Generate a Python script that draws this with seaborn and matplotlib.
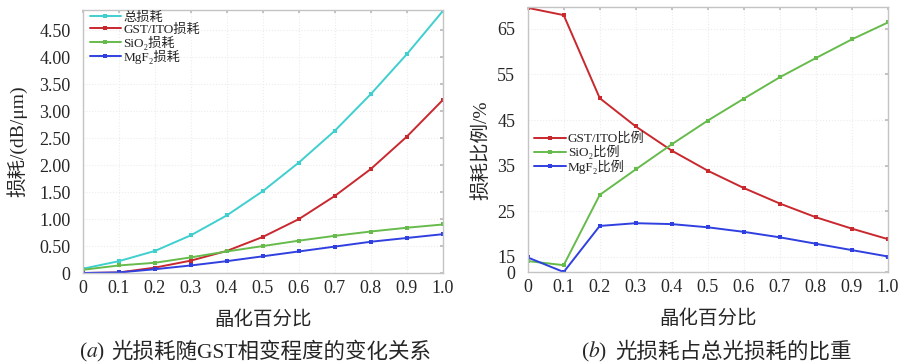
import numpy as np
import pandas as pd
import matplotlib
matplotlib.use("Agg")
import matplotlib.pyplot as plt
import seaborn as sns

# crystallization fraction
x = [0, 0.1, 0.2, 0.3, 0.4, 0.5, 0.6, 0.7, 0.8, 0.9, 1.0]

# (a) loss, dB/um
total_loss = [0.08, 0.22, 0.41, 0.70, 1.07, 1.52, 2.05, 2.64, 3.32, 4.06, 4.86]
gst_loss = [0.0, 0.01, 0.10, 0.23, 0.41, 0.67, 1.00, 1.43, 1.93, 2.53, 3.21]
sio2_loss = [0.06, 0.14, 0.19, 0.29, 0.40, 0.50, 0.60, 0.69, 0.77, 0.84, 0.90]
mgf2_loss = [0.0, 0.01, 0.07, 0.14, 0.22, 0.31, 0.40, 0.49, 0.58, 0.65, 0.72]

# (b) share of total loss, %
gst_pct = [69.6, 68.0, 49.8, 43.6, 38.3, 33.9, 30.1, 26.7, 23.7, 21.2, 18.9]
sio2_pct = [14.1, 13.2, 28.6, 34.2, 39.7, 44.9, 49.7, 54.4, 58.6, 62.7, 66.4]
mgf2_pct = [14.9, 11.7, 21.8, 22.4, 22.2, 21.5, 20.5, 19.3, 17.9, 16.5, 15.1]

xticks = [0, 0.1, 0.2, 0.3, 0.4, 0.5, 0.6, 0.7, 0.8, 0.9, 1.0]
xticklabels = ["0", "0.1", "0.2", "0.3", "0.4", "0.5", "0.6", "0.7", "0.8", "0.9", "1.0"]
yticks_a = [0, 0.5, 1.0, 1.5, 2.0, 2.5, 3.0, 3.5, 4.0, 4.5]
yticklabels_a = ["0", "0.50", "1.00", "1.50", "2.00", "2.50", "3.00", "3.50", "4.00", "4.50"]
ylo_b, yhi_b = 11.7, 69.8
yticks_b = [ylo_b, 15, 25, 35, 45, 55, 65]
yticklabels_b = ["0", "15", "25", "35", "45", "55", "65"]

c_total = "#3fcfcf"
c_red = "#c8282e"
c_green = "#66bb4c"
c_blue = "#3040e0"

sns.set_theme(style="white")
plt.rcParams["font.family"] = ["Liberation Serif", "DejaVu Serif", "Noto Sans CJK SC"]
plt.rcParams["mathtext.fontset"] = "stix"

fig = plt.figure(figsize=(9.04, 3.64), dpi=100)
ax1 = fig.add_axes([0.0918, 0.25, 0.398, 0.7225])
ax2 = fig.add_axes([0.5837, 0.2527, 0.3986, 0.7283])

def style_axes(ax):
    for s in ax.spines.values():
        s.set_color("#c4c4c4")
        s.set_linewidth(1.0)
    ax.grid(True, color="#ececec", linestyle=":", linewidth=0.8)
    ax.tick_params(axis="both", direction="in", length=2, color="#bbbbbb",
                   labelsize=13, top=True, right=True,
                   labeltop=False, labelright=False)
    ax.tick_params(axis="y", pad=9)
    ax.tick_params(axis="x", pad=5)

# (a)
series_a = [(total_loss, "总损耗", c_total),
            (gst_loss, "GST/ITO损耗", c_red),
            (sio2_loss, "SiO₂损耗", c_green),
            (mgf2_loss, "MgF₂损耗", c_blue)]
for vals, name, col in series_a:
    df = pd.DataFrame({"x": x, "y": vals})
    sns.lineplot(data=df, x="x", y="y", ax=ax1, color=col, marker="s",
                 markersize=3, markeredgewidth=0, linewidth=1.4, label=name)
ax1.set_xlim(0, 1.0)
ax1.set_ylim(0, 4.88)
ax1.set_xticks(xticks)
ax1.set_xticklabels(xticklabels)
ax1.set_yticks(yticks_a)
ax1.set_yticklabels(yticklabels_a)
ax1.set_xlabel("晶化百分比", fontsize=14, labelpad=10)
ax1.set_ylabel("损耗/(dB/μm)", fontsize=14)
ax1.yaxis.set_label_coords(-0.155, 0.5)
style_axes(ax1)
ax1.legend(loc="upper left", frameon=False, fontsize=9.5, handlelength=2.4,
           handletextpad=0.15, labelspacing=0.0, borderaxespad=0.1,
           bbox_to_anchor=(0.0, 1.02))

# (b)
series_b = [(gst_pct, "GST/ITO比例", c_red),
            (sio2_pct, "SiO₂比例", c_green),
            (mgf2_pct, "MgF₂比例", c_blue)]
for vals, name, col in series_b:
    df = pd.DataFrame({"x": x, "y": vals})
    sns.lineplot(data=df, x="x", y="y", ax=ax2, color=col, marker="s",
                 markersize=3, markeredgewidth=0, linewidth=1.4, label=name)
ax2.set_xlim(0, 1.0)
ax2.set_ylim(ylo_b, yhi_b)
ax2.set_xticks(xticks)
ax2.set_xticklabels(xticklabels)
ax2.set_yticks(yticks_b)
ax2.set_yticklabels(yticklabels_b)
ax2.set_xlabel("晶化百分比", fontsize=14, labelpad=10)
ax2.set_ylabel("损耗比例/%", fontsize=14)
ax2.yaxis.set_label_coords(-0.105, 0.46)
style_axes(ax2)
ax2.legend(loc="center left", frameon=False, fontsize=9.5, handlelength=2.4,
           handletextpad=0.15, labelspacing=0.0, borderaxespad=0.1,
           bbox_to_anchor=(0.0, 0.448))

# captions
fig.text(105 / 904, 0.018, "($a$)", ha="right", fontsize=15.5)
fig.text(111 / 904, 0.018, "光损耗随GST相变程度的变化关系", ha="left", fontsize=15.5)
fig.text(607 / 904, 0.018, "($b$)", ha="right", fontsize=15.5)
fig.text(615 / 904, 0.018, "光损耗占总光损耗的比重", ha="left", fontsize=15.5)

fig.savefig("out.png", dpi=100)
